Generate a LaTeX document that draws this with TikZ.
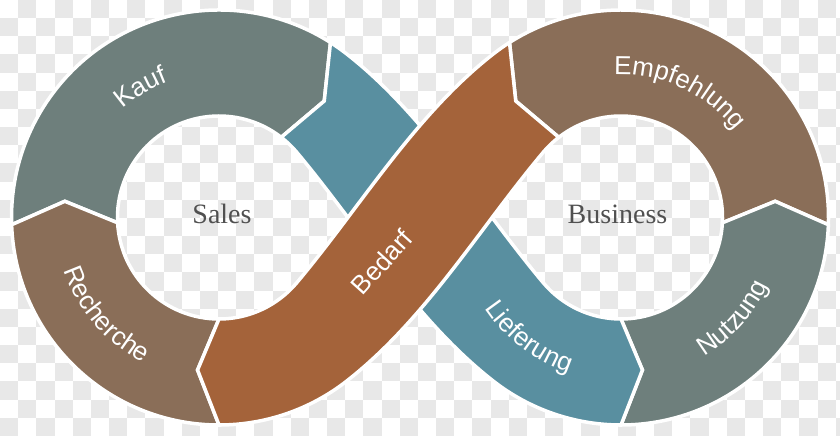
\documentclass[tikz,border=0pt]{standalone}
\usepackage{fontspec}
\setmainfont{Liberation Serif}
\setsansfont{Liberation Sans}
\usetikzlibrary{calc,decorations.text}
\definecolor{cgray}{HTML}{6E7F7C}
\definecolor{cteal}{HTML}{598FA0}
\definecolor{cbrown}{HTML}{8A6E58}
\definecolor{corange}{HTML}{A4633A}
\definecolor{checkgray}{HTML}{E8E8E8}
\definecolor{txtgray}{HTML}{505050}
\newcommand\lblfont{\fontsize{26}{26}\selectfont\sffamily\color{white}}
\begin{document}
\begin{tikzpicture}[x=1pt,y=1pt,
  seg/.style={draw=white,line width=3.5pt},
  ctext/.style={font=\fontsize{28}{28}\selectfont\rmfamily,text=txtgray,anchor=base,inner sep=0pt}]
\useasboundingbox (0,0) rectangle (840,436);
\fill[white] (0,0) rectangle (840,436);
\begin{scope}
\clip (0,0) rectangle (840,436);
\foreach \i in {0,...,46}{\foreach \j in {0,...,23}{%
  \pgfmathtruncatemacro{\chk}{mod(\i+\j,2)}%
  \ifnum\chk=1 \fill[checkgray] ({\i*18.1667},{436-(\j+1)*18.1667}) rectangle ++(18.1667,18.1667);\fi
}}
\end{scope}
\coordinate (L) at (219,218.5);
\coordinate (R) at (621,218.5);
% Kauf
\path[seg,fill=cgray] ($(L)+(57.5:207.5)$) arc[start angle=57.5,end angle=182,radius=207.5]
  -- ($(L)+(174:155)$) -- ($(L)+(183:101.5)$) arc[start angle=183,end angle=52.2,radius=101.5]
  -- ($(L)+(47.9:157)$) -- cycle;
% Recherche
\path[seg,fill=cbrown] ($(L)+(182:207.5)$) arc[start angle=182,end angle=270,radius=207.5]
  -- ($(L)+(262:154)$) -- ($(L)+(270:101.5)$) arc[start angle=270,end angle=183,radius=101.5]
  -- ($(L)+(174:155)$) -- cycle;
% Empfehlung
\path[seg,fill=cbrown] ($(R)+(-2:207.5)$) arc[start angle=-2,end angle=122.5,radius=207.5]
  -- ($(R)+(132.1:157)$) -- ($(R)+(127.8:101.5)$) arc[start angle=127.8,end angle=-3,radius=101.5]
  -- ($(R)+(6:155)$) -- cycle;
% Nutzung
\path[seg,fill=cgray] ($(R)+(-90:207.5)$) arc[start angle=-90,end angle=-2,radius=207.5]
  -- ($(R)+(6:155)$) -- ($(R)+(-3:101.5)$) arc[start angle=-3,end angle=-90,radius=101.5]
  -- ($(R)+(-82:154)$) -- cycle;
% teal band (Lieferung)
\path[seg,fill=cteal] ($(R)+(270:207.5)$) arc[start angle=270,end angle=232,radius=207.5]
  .. controls ($(R)+(232:207.5)+(142:100)$) and ($(L)+(40:101.5)+(-50:100)$) .. ($(L)+(40:101.5)$)
  arc[start angle=40,end angle=52.2,radius=101.5]
  -- ($(L)+(47.9:157)$) -- ($(L)+(57.5:207.5)$) arc[start angle=57.5,end angle=52,radius=207.5]
  .. controls ($(L)+(52:207.5)+(-38:100)$) and ($(R)+(220:101.5)+(130:100)$) .. ($(R)+(220:101.5)$)
  arc[start angle=220,end angle=270,radius=101.5]
  -- ($(R)+(-82:154)$) -- cycle;
% Bedarf band
\path[seg,fill=corange] ($(L)+(-90:207.5)$) arc[start angle=-90,end angle=-52,radius=207.5]
  .. controls ($(L)+(-52:207.5)+(38:100)$) and ($(R)+(140:101.5)+(230:100)$) .. ($(R)+(140:101.5)$)
  arc[start angle=140,end angle=127.8,radius=101.5]
  -- ($(R)+(132.1:157)$) -- ($(R)+(122.5:207.5)$) arc[start angle=122.5,end angle=128,radius=207.5]
  .. controls ($(R)+(128:207.5)+(218:100)$) and ($(L)+(-40:101.5)+(50:100)$) .. ($(L)+(-40:101.5)$)
  arc[start angle=-40,end angle=-90,radius=101.5]
  -- ($(L)+(-98:154)$) -- cycle;
% curved labels
\path[decorate,decoration={text along path,text align=center,text={|\lblfont|Kauf}}]
  ($(L)+(170:145)$) arc[start angle=170,end angle=72,radius=145];
\path[decorate,decoration={text along path,text align=center,text={|\lblfont|Empfehlung}}]
  ($(R)+(130:143)$) arc[start angle=130,end angle=0,radius=143];
\path[decorate,decoration={text along path,text align=center,text={|\lblfont|Recherche}}]
  ($(L)+(180:164)$) arc[start angle=180,end angle=261.2,radius=164];
\path[decorate,decoration={text along path,text align=center,text={|\lblfont|Lieferung}}]
  ($(R)+(192:164)$) arc[start angle=192,end angle=272.8,radius=164];
\path[decorate,decoration={text along path,text align=center,text={|\lblfont|Nutzung}}]
  ($(R)+(-85:162)$) arc[start angle=-85,end angle=1,radius=162];
\node[rotate=48,font=\fontsize{26}{26}\selectfont\sffamily,text=white,inner sep=0pt] (bedarf) at (381.5,174) {Bedarf};
\node[ctext] (sales) at (222,212.7) {Sales};
\node[ctext] (business) at (617.5,212.7) {Business};
\end{tikzpicture}
\end{document}
